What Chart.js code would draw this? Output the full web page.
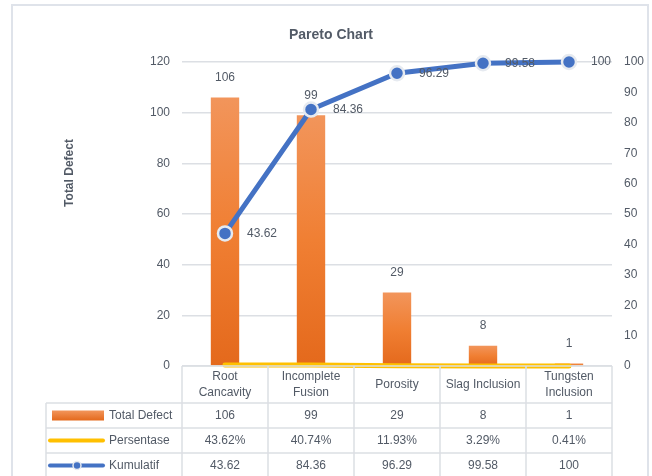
<!DOCTYPE html>
<html>
<head>
<meta charset="utf-8">
<script src="https://cdn.jsdelivr.net/npm/chart.js@4/dist/chart.umd.min.js"></script>
<style>
    html, body { margin: 0; padding: 0; background: #fff; }
    #wrap { position: relative; width: 652px; height: 476px; }
</style>
</head>
<body>
<div id="wrap"><canvas id="chart" width="652" height="476"></canvas></div>
<script>
/*global Chart*/
var categories = [['Root', 'Cancavity'], ['Incomplete', 'Fusion'], ['Porosity'], ['Slag Inclusion'], ['Tungsten', 'Inclusion']];
var totalDefect = [106, 99, 29, 8, 1];
var persentase = [0.4362, 0.4074, 0.1193, 0.0329, 0.0041];
var kumulatif = [43.62, 84.36, 96.29, 99.58, 100];
var seriesNames = ['Total Defect', 'Persentase', 'Kumulatif'];
var leftMax = 120, leftStep = 20;
var rightMax = 100, rightStep = 10;

(function () {
    "use strict";

    var FONT = "'Liberation Sans', Arial, sans-serif";
    var TEXT = '#525a66';
    var GRID = '#dcdfe4';
    var ORANGE_TOP = '#f2955b', ORANGE_BOT = '#e4691c';
    var YELLOW = '#ffc000', BLUE = '#4472c4';

    var barFill = function (context) {
        var chart = context.chart;
        if (!chart.chartArea || context.parsed === undefined) {
            return ORANGE_BOT;
        }
        var y = chart.scales.y;
        var top = y.getPixelForValue(context.parsed.y);
        var bottom = y.getPixelForValue(0);
        if (!isFinite(top) || bottom - top < 1) {
            return ORANGE_TOP;
        }
        var g = chart.ctx.createLinearGradient(0, top, 0, bottom);
        g.addColorStop(0, ORANGE_TOP);
        g.addColorStop(0.5, '#f07f33');
        g.addColorStop(1, ORANGE_BOT);
        return g;
    };

    var text = function (ctx, s, x, y, align, bold, size) {
        ctx.font = (bold ? 'bold ' : '') + (size || 12) + 'px ' + FONT;
        ctx.fillStyle = TEXT;
        ctx.textAlign = align || 'center';
        ctx.textBaseline = 'middle';
        ctx.fillText(s, x, y);
    };

    // labels, title, border and the data table under the plot
    var extras = {
        id: 'extras',
        afterDatasetsDraw: function (chart) {
            var ctx = chart.ctx, x = chart.scales.x, y = chart.scales.y, y1 = chart.scales.y1;
            ctx.save();
            totalDefect.forEach(function (v, i) {
                text(ctx, String(v), x.getPixelForValue(i), y.getPixelForValue(v) - 20);
            });
            kumulatif.forEach(function (v, i) {
                text(ctx, String(v), x.getPixelForValue(i) + 22, y1.getPixelForValue(v), 'left');
            });
            ctx.restore();
        },
        afterDraw: function (chart) {
            var ctx = chart.ctx, x = chart.scales.x, area = chart.chartArea;
            var colW = x.getPixelForValue(1) - x.getPixelForValue(0);
            var left = area.left, right = area.right, top = area.bottom;
            var keyLeft = 46;
            var rows = [top, top + 37, top + 62, top + 87, top + 112];
            var i, r;

            ctx.save();
            // outer border
            ctx.strokeStyle = '#dfe3ea';
            ctx.lineWidth = 2;
            ctx.strokeRect(12, 5, 636, 480);

            // title and axis title
            text(ctx, 'Pareto Chart', 331, 35, 'center', true, 14);
            ctx.save();
            ctx.translate(70, 173);
            ctx.rotate(-Math.PI / 2);
            text(ctx, 'Total Defect', 0, 0, 'center', true, 12);
            ctx.restore();

            // table grid
            ctx.strokeStyle = GRID;
            ctx.lineWidth = 1.5;
            ctx.beginPath();
            ctx.moveTo(left, rows[0]);
            ctx.lineTo(right, rows[0]);
            for (r = 1; r < rows.length; r++) {
                ctx.moveTo(keyLeft, rows[r]);
                ctx.lineTo(right, rows[r]);
            }
            for (i = 0; i <= categories.length; i++) {
                var cx = left + i * colW;
                ctx.moveTo(cx, rows[0]);
                ctx.lineTo(cx, rows[4]);
            }
            ctx.moveTo(keyLeft, rows[1]);
            ctx.lineTo(keyLeft, rows[4]);
            ctx.stroke();

            // header
            categories.forEach(function (lines, i) {
                var cx = x.getPixelForValue(i);
                var mid = (rows[0] + rows[1]) / 2;
                lines.forEach(function (s, k) {
                    text(ctx, s, cx, mid + (k - (lines.length - 1) / 2) * 16);
                });
            });

            // values
            var rowVals = [
                totalDefect.map(String),
                persentase.map(function (v) { return (v * 100).toFixed(2) + '%'; }),
                kumulatif.map(String)
            ];
            rowVals.forEach(function (vals, r) {
                var cy = (rows[r + 1] + rows[r + 2]) / 2;
                vals.forEach(function (s, i) {
                    text(ctx, s, x.getPixelForValue(i), cy);
                });
                text(ctx, seriesNames[r], 109, cy, 'left');
            });

            // legend keys
            var cy0 = (rows[1] + rows[2]) / 2;
            var g = ctx.createLinearGradient(0, cy0 - 5, 0, cy0 + 5);
            g.addColorStop(0, ORANGE_TOP);
            g.addColorStop(1, ORANGE_BOT);
            ctx.fillStyle = g;
            ctx.fillRect(52, cy0 - 5, 52, 10);

            ctx.lineCap = 'round';
            ctx.lineWidth = 4;
            var cy1 = (rows[2] + rows[3]) / 2;
            ctx.strokeStyle = YELLOW;
            ctx.beginPath();
            ctx.moveTo(50, cy1);
            ctx.lineTo(103, cy1);
            ctx.stroke();

            var cy2 = (rows[3] + rows[4]) / 2;
            ctx.strokeStyle = BLUE;
            ctx.beginPath();
            ctx.moveTo(50, cy2);
            ctx.lineTo(103, cy2);
            ctx.stroke();
            ctx.beginPath();
            ctx.arc(77, cy2, 4, 0, Math.PI * 2);
            ctx.fillStyle = BLUE;
            ctx.fill();
            ctx.lineWidth = 1.5;
            ctx.strokeStyle = '#e6eaf0';
            ctx.stroke();
            ctx.restore();
        }
    };

    Chart.defaults.font.family = FONT;
    Chart.defaults.font.size = 12;
    Chart.defaults.color = TEXT;

    var ctx = window.document.getElementById('chart');
    new Chart(ctx, {
        data: {
            labels: categories,
            datasets: [{
                type: 'line',
                label: seriesNames[2],
                data: kumulatif,
                yAxisID: 'y1',
                borderColor: BLUE,
                borderWidth: 5,
                pointRadius: 7,
                pointBackgroundColor: BLUE,
                pointBorderColor: '#e6eaf0',
                pointBorderWidth: 2.5,
                tension: 0,
                clip: false,
                order: 1
            }, {
                type: 'line',
                label: seriesNames[1],
                data: persentase,
                yAxisID: 'y',
                borderColor: YELLOW,
                borderWidth: 5,
                borderCapStyle: 'round',
                pointRadius: 0,
                clip: false,
                order: 2
            }, {
                type: 'bar',
                label: seriesNames[0],
                data: totalDefect,
                yAxisID: 'y',
                backgroundColor: barFill,
                categoryPercentage: 1,
                barPercentage: 0.33,
                order: 3
            }]
        },
        options: {
            responsive: false,
            animation: false,
            layout: { padding: { top: 62, bottom: 110, left: 0, right: 0 } },
            plugins: {
                legend: { display: false },
                title: { display: false },
                tooltip: { enabled: false }
            },
            scales: {
                x: { display: false },
                y: {
                    position: 'left',
                    min: 0,
                    max: leftMax,
                    ticks: { stepSize: leftStep, padding: 12 },
                    grid: { color: GRID, lineWidth: 1.5, drawTicks: false },
                    border: { display: false },
                    afterFit: function (scale) { scale.width = 182; }
                },
                y1: {
                    position: 'right',
                    min: 0,
                    max: rightMax,
                    ticks: { stepSize: rightStep, padding: 12 },
                    grid: { display: false, drawTicks: false },
                    border: { display: false },
                    afterFit: function (scale) { scale.width = 40; }
                }
            }
        },
        plugins: [extras]
    });
}());
</script>
</body>
</html>
